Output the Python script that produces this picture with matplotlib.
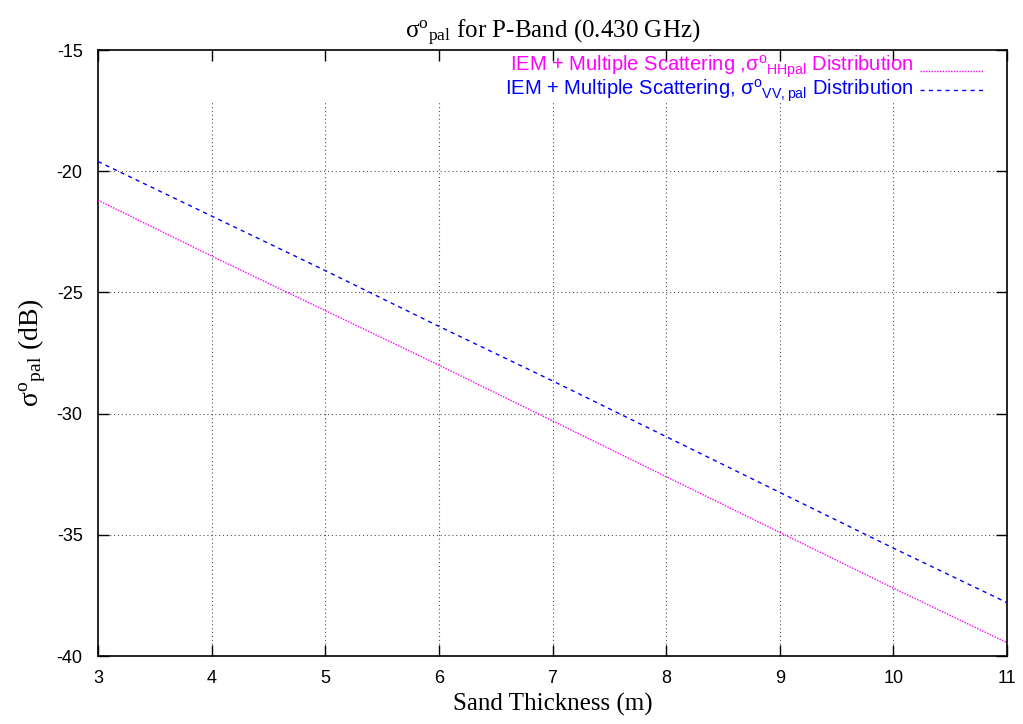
import matplotlib
matplotlib.use("Agg")
import matplotlib.pyplot as plt
import numpy as np

plt.rcParams["axes.unicode_minus"] = False

thickness = [3, 4, 5, 6, 7, 8, 9, 10, 11]
hh_pal = [-21.2, -23.5, -25.75, -28.0, -30.3, -32.6, -34.9, -37.2, -39.45]
vv_pal = [-19.6, -21.85, -24.1, -26.4, -28.65, -30.95, -33.25, -35.55, -37.8]
xticks = [3, 4, 5, 6, 7, 8, 9, 10, 11]
yticks = [-40, -35, -30, -25, -20, -15]

W, H = 1023, 724
fig = plt.figure(figsize=(W / 100, H / 100), dpi=100)
ax = fig.add_axes([98 / W, 1 - 656 / H, (1007 - 98) / W, (656 - 50) / H])
ax.set_xlim(3, 11)
ax.set_ylim(-40, -15)

sans = "Liberation Sans"
serif = "Liberation Serif"

# grid (gnuplot style, vertical lines stop below key)
ytop_grid = -17.06
for x in xticks[1:-1]:
    ax.plot([x, x], [-40, ytop_grid], color="#555555", lw=0.8, ls=(0, (1, 2.5)), zorder=1)
for y in yticks[1:-1]:
    ax.plot([3, 11], [y, y], color="#555555", lw=0.8, ls=(0, (1, 2.5)), zorder=1)

ax.plot(thickness, hh_pal, color="#ff00ff", lw=1.0, ls=(0, (1, 1)), zorder=3)
ax.plot(thickness, vv_pal, color="#0000ff", lw=1.0, ls=(0, (3, 3)), zorder=3)

ax.set_xticks(xticks)
ax.set_yticks(yticks)
ax.tick_params(direction="in", length=8, width=1, top=True, right=True,
               labelsize=13, pad=10)
ax.tick_params(axis="y", pad=11)
for lab in ax.get_xticklabels() + ax.get_yticklabels():
    lab.set_fontfamily(sans)
for s in ax.spines.values():
    s.set_linewidth(1.2)

ax.set_title(r"$\mathdefault{σ^{o}{}_{pal}}$ for P-Band (0.430 GHz)",
             fontfamily=serif, fontsize=18, pad=8)
ax.set_xlabel("Sand Thickness (m)", fontfamily=serif, fontsize=18, labelpad=4)
ax.set_ylabel(r"$\mathdefault{σ^{o}{}_{pal}}$ (dB)", fontfamily=serif, fontsize=20, labelpad=6)

# key
tr = ax.transAxes
def axx(px):
    return (px - 98) / (1007 - 98)
def axy(py):
    return 1 - (py - 50) / (656 - 50)

ax.text(axx(913), axy(67), r"IEM + Multiple Scattering ,$\mathdefault{σ^{o}{}_{HHpal}}$ Distribution",
        transform=tr, ha="right", va="center", color="#ff00ff", fontfamily=sans, fontsize=14.5)
ax.plot([axx(920), axx(983)], [axy(71), axy(71)], transform=tr, color="#ff00ff", lw=1.0, ls=(0, (1, 1)))
ax.text(axx(913), axy(91), r"IEM + Multiple Scattering, $\mathdefault{σ^{o}{}_{VV,pal}}$ Distribution",
        transform=tr, ha="right", va="center", color="#0000ff", fontfamily=sans, fontsize=14.5)
ax.plot([axx(920), axx(983)], [axy(90), axy(90)], transform=tr, color="#0000ff", lw=1.0, ls=(0, (3, 3)))

fig.savefig("out.png", dpi=100)
